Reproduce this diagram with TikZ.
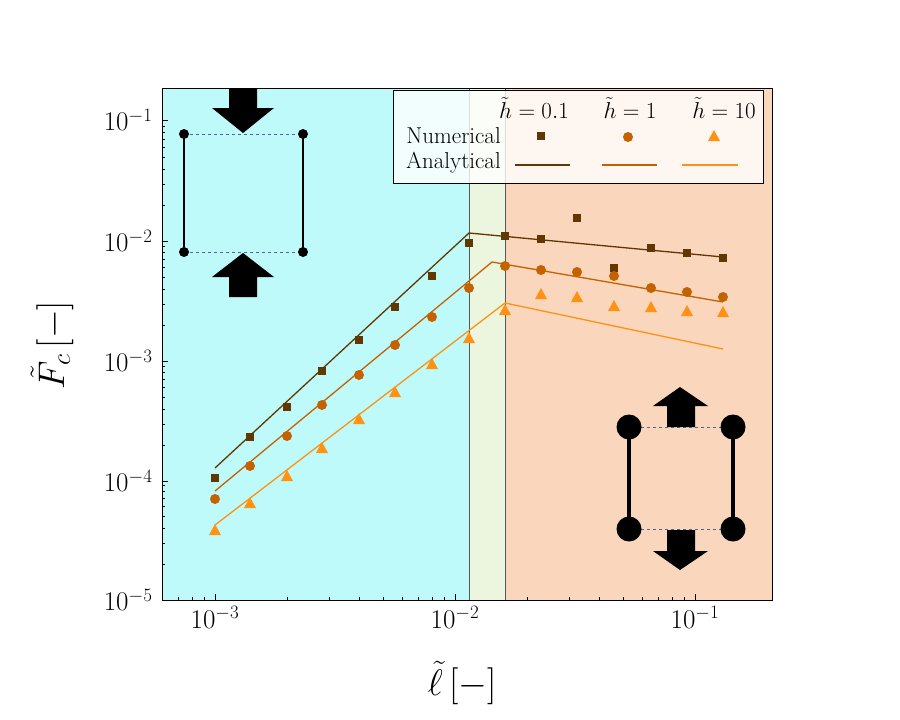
\RequirePackage{fix-cm}
\documentclass[tikz,border=0pt]{standalone}
\usepackage{amsmath}
\definecolor{cA}{RGB}{96,56,0}
\definecolor{cB}{RGB}{196,98,0}
\definecolor{cC}{RGB}{255,146,18}
\definecolor{cyanbg}{RGB}{190,250,250}
\definecolor{greenbg}{RGB}{236,245,222}
\definecolor{peachbg}{RGB}{250,214,188}
\definecolor{dashb}{RGB}{80,100,160}
\begin{document}
\begin{tikzpicture}[x=1pt,y=-1pt,
  sq/.style={fill=cA,minimum size=8pt,inner sep=0pt},
  ci/.style={circle,fill=cB,minimum size=10pt,inner sep=0pt},
  tri/.style={fill=cC},
  tick/.style={font=\fontsize{27}{30}\selectfont},
  leg/.style={font=\fontsize{23}{26}\selectfont},
  dl/.style={dashb,dashed,line width=0.8pt}]
\useasboundingbox (0,0) rectangle (900,720);
\fill[white] (0,0) rectangle (900,720);
\fill[cyanbg] (162,88) rectangle (469,600);
\fill[greenbg] (469,88) rectangle (505,600);
\fill[peachbg] (505,88) rectangle (772,600);
\draw[gray!70!black,line width=0.5pt] (469,88)--(469,600) (505,88)--(505,600);
% ticks
\foreach \y/\e in {120/-1,241/-2,361/-3,481/-4,600/-5}{
  \draw (162,\y)--(168,\y);
  \node[tick,anchor=east] (yl\e) at (156,\y) {$10^{\e}$};}
\foreach \x/\e in {215/-3,455/-2,695/-1}{
  \draw (\x,600)--(\x,594);
  \node[tick,anchor=north] (xl\e) at (\x,603) {$10^{\e}$};}
\foreach \d in {2,...,9}{
  \pgfmathsetmacro\lx{240*log10(\d)}
  \pgfmathsetmacro\xa{215-240+\lx}
  \ifdim\xa pt>162pt \draw (\xa,600)--(\xa,597);\fi
  \draw (215+\lx,600)--(215+\lx,597);
  \draw (455+\lx,600)--(455+\lx,597);
  \pgfmathsetmacro\ly{120*log10(\d)}
  \draw (162,241-\ly)--(165,241-\ly);
  \draw (162,361-\ly)--(165,361-\ly);
  \draw (162,481-\ly)--(165,481-\ly);
  \draw (162,600-\ly)--(165,600-\ly);}
\node[font=\fontsize{37}{40}\selectfont,rotate=90] (ylab) at (52,345) {$\tilde{F}_c\,[-]$};
\node[font=\fontsize{37}{40}\selectfont] (xlab) at (462,683) {$\tilde{\ell}\,[-]$};
% lines
\draw[cA,line width=1.3pt] (215,468)--(469,233)--(723,257);
\draw[cB,line width=1.3pt] (215,491)--(492,262)--(723,302);
\draw[cC,line width=1.3pt] (215,525)--(505,303)--(723,349);
% data
\def\xs{215,250,287,322,359,395,432,469,505,541,577,614,651,687,723}
\foreach \x [count=\i] in \xs {
  \pgfmathsetmacro\ya{{478,437,407,371,340,307,276,243,236,239,218,268,248,253,258}[\i-1]}
  \pgfmathsetmacro\yb{{499,466,436,405,375,345,317,288,266,270,272,276,288,292,297}[\i-1]}
  \pgfmathsetmacro\yc{{530,503,476,448,419,392,364,338,310,294,297,306,307,311,312}[\i-1]}
  \node[sq] (s\i) at (\x,\ya) {};
  \node[ci] (c\i) at (\x,\yb) {};
  \fill[tri] (\x-6,\yc+5)--(\x+6,\yc+5)--(\x,\yc-6)--cycle;}
% legend
\fill[white,opacity=0.8] (393,90) rectangle (763,183);
\draw[line width=0.6pt] (393,90) rectangle (763,183);
\node[leg,anchor=east,inner sep=0pt] (lnum) at (501,136) {Numerical};
\node[leg,anchor=east,inner sep=0pt] (lana) at (501,163) {Analytical};
\node[leg,inner sep=0pt] (h1) at (534,108) {$\tilde{h}=0.1$};
\node[leg,inner sep=0pt] (h2) at (630,108) {$\tilde{h}=1$};
\node[leg,inner sep=0pt] (h3) at (724,108) {$\tilde{h}=10$};
\node[sq] (ls) at (541,136) {};
\node[ci] (lc) at (628,137) {};
\fill[tri] (708,141)--(720,141)--(714,130)--cycle;
\draw[cA,line width=1.3pt] (515,165)--(570,165);
\draw[cB,line width=1.3pt] (602,165)--(657,165);
\draw[cC,line width=1.3pt] (682,165)--(738,165);
% icon top-left
\draw[dl] (184,134)--(303,134) (184,252)--(303,252);
\draw[line width=2.2pt] (184,134)--(184,252) (303,134)--(303,252);
\foreach \p in {(184,134),(303,134),(184,252),(303,252)} \fill \p circle (5);
\fill (229,88)--(257,88)--(257,108)--(274,108)--(243,133)--(212,108)--(229,108)--cycle;
\fill (229,297)--(257,297)--(257,277)--(274,277)--(243,253)--(212,277)--(229,277)--cycle;
% icon bottom-right
\draw[dl] (629,427)--(733,427) (629,529)--(733,529);
\draw[line width=4.5pt] (629,427)--(629,529) (733,427)--(733,529);
\foreach \p in {(629,427),(733,427),(629,529),(733,529)} \fill \p circle (12.5);
\fill (667,427)--(695,427)--(695,406)--(708,406)--(680,387)--(653,406)--(667,406)--cycle;
\fill (667,530)--(695,530)--(695,551)--(708,551)--(680,570)--(653,551)--(667,551)--cycle;
\draw[line width=0.8pt] (162,88) rectangle (772,600);
\end{tikzpicture}
\end{document}
